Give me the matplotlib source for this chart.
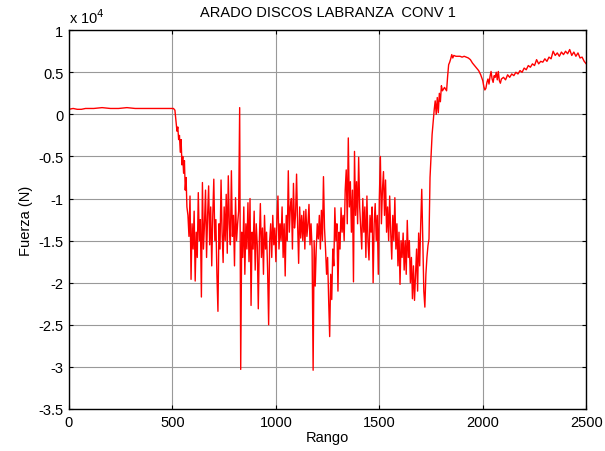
import numpy as np
import matplotlib
matplotlib.use("Agg")
import matplotlib.pyplot as plt

plt.rcParams['font.family'] = ['Liberation Sans', 'DejaVu Sans']

# Fuerza en unidades de 10^4 N
# tramo inicial (sin carga) y caida
rango_ini = [0, 20, 40, 60, 80, 120, 160, 200, 240, 280, 320, 360, 400, 440, 480,
             505, 512, 518, 522, 526, 530, 534, 538, 542, 546, 550, 554, 558, 562, 566, 570]
fuerza_ini = [0.06, 0.07, 0.06, 0.06, 0.07, 0.07, 0.08, 0.07, 0.07, 0.08, 0.07, 0.07, 0.07, 0.07, 0.07,
              0.07, 0.05, -0.1, -0.2, -0.15, -0.3, -0.25, -0.45, -0.3, -0.6, -0.5, -0.7, -0.55, -0.9, -0.75, -1.1]

# tramo de labranza (muestras cada 5 desde 575)
fuerza_lab = [
    -1.2, -1.45, -0.97, -1.96, -1.3, -1.6, -1.15, -1.98, -1.4, -1.7,
    -0.93, -1.5, -1.25, -2.17, -0.81, -1.6, -1.3, -0.9, -1.7, -1.2,
    -0.85, -1.55, -1.1, -1.8, -1.2, -0.77, -1.5, -1.25, -1.9, -2.34,
    -1.3, -1.6, -0.78, -1.4, -1.76, -1.1, -1.5, -0.95, -1.65, -0.73,
    -1.3, -1.55, -0.67, -1.45, -1.2, -1.8, -0.99, -1.5, -1.3, -1.15,
    0.08, -3.03, -1.4, -1.7, -1.1, -1.9, -1.3, -1.6, -1.05, -1.75,
    -1.0, -2.27, -1.4, -1.6, -1.15, -1.85, -1.3, -1.55, -2.31, -1.5,
    -1.06, -1.7, -1.35, -1.9, -1.2, -1.6, -1.4, -1.85, -2.5, -1.5,
    -1.3, -1.7, -1.2, -1.55, -1.35, -1.75, -1.25, -0.97, -1.6, -1.3,
    -1.5, -1.1, -1.7, -1.3, -1.92, -1.2, -1.5, -0.67, -1.4, -1.1,
    -1.0, -1.6, -0.82, -1.35, -1.2, -0.71, -1.3, -1.77, -1.1, -1.47,
    -1.2, -1.5, -1.15, -1.6, -1.13, -1.45, -1.3, -1.07, -1.55, -1.3,
    -1.6, -3.04, -1.5, -2.04, -1.6, -1.3, -1.48, -1.2, -1.6, -1.14,
    -1.5, -0.74, -1.35, -1.6, -1.9, -1.7, -2.2, -2.64, -1.9, -2.2,
    -1.6, -1.8, -1.11, -1.5, -1.3, -2.1, -1.4, -1.6, -1.11, -1.4,
    -1.2, -1.5, -0.9, -0.66, -1.3, -0.28, -1.1, -0.8, -1.4, -0.9,
    -1.99, -0.44, -1.2, -0.8, -1.3, -0.51, -1.1, -1.35, -1.6, -1.0,
    -1.4, -1.1, -1.7, -0.97, -1.5, -1.73, -1.2, -1.4, -1.1, -2.0,
    -1.3, -1.06, -1.5, -1.2, -1.9, -1.0, -0.5, -1.3, -0.9, -0.68,
    -1.2, -0.78, -1.4, -1.1, -1.5, -0.97, -1.4, -1.72, -1.2, -1.5,
    -0.99, -1.6, -1.3, -1.8, -1.4, -2.02, -1.5, -1.7, -1.41, -1.85,
    -1.5, -1.9, -1.26, -1.7, -1.5, -2.0, -1.7, -2.19, -1.8, -2.21,
    -1.9, -1.6, -2.1, -1.41, -1.8, -1.3, -0.89, -1.5, -2.1, -2.29,
    -1.9, -1.7, -1.56, -1.48, -0.75,
]
rango_lab = np.arange(575, 575 + 5 * len(fuerza_lab), 5)

# salida del arado y tramo final
rango_fin = [1750, 1755, 1760, 1765, 1770, 1775, 1780, 1785, 1790, 1795, 1800, 1805, 1810, 1815,
             1820, 1825, 1830, 1835, 1840, 1845, 1850, 1855, 1860, 1870, 1880, 1890, 1900, 1910,
             1920, 1930, 1940, 1950, 1960, 1970, 1980, 1990, 2000, 2005, 2010, 2015, 2020, 2025,
             2030, 2035, 2040, 2045, 2050, 2055, 2060, 2065, 2070, 2075, 2080, 2085, 2090, 2100,
             2110, 2120, 2130, 2140, 2150, 2160, 2170, 2180, 2190, 2200, 2210, 2220, 2230, 2240,
             2250, 2260, 2270, 2280, 2290, 2300, 2310, 2320, 2330, 2340, 2350, 2360, 2370, 2380,
             2390, 2400, 2410, 2420, 2430, 2440, 2450, 2460, 2470, 2480, 2490, 2500]
fuerza_fin = [-0.5, -0.24, -0.1, 0.05, 0.16, 0.0, 0.2, 0.02, 0.25, 0.15, 0.34, 0.28, 0.3, 0.32,
              0.3, 0.28, 0.45, 0.59, 0.62, 0.66, 0.71, 0.67, 0.70, 0.69, 0.69, 0.69, 0.68, 0.69,
              0.68, 0.67, 0.65, 0.61, 0.58, 0.55, 0.52, 0.47, 0.40, 0.33, 0.29, 0.31, 0.38, 0.42,
              0.36, 0.45, 0.51, 0.42, 0.38, 0.46, 0.44, 0.5, 0.41, 0.51, 0.4, 0.37, 0.42, 0.44,
              0.41, 0.47, 0.44, 0.48, 0.46, 0.5, 0.48, 0.52, 0.5, 0.55, 0.53, 0.58, 0.56, 0.6,
              0.58, 0.65, 0.6, 0.63, 0.62, 0.66, 0.63, 0.68, 0.66, 0.75, 0.7, 0.73, 0.69, 0.74,
              0.71, 0.75, 0.72, 0.77, 0.7, 0.74, 0.69, 0.73, 0.67, 0.68, 0.63, 0.6]

rango = np.concatenate([rango_ini, rango_lab, rango_fin])
fuerza = np.concatenate([fuerza_ini, fuerza_lab, fuerza_fin])

fig = plt.figure(figsize=(6.05, 4.52), dpi=100)
ax = fig.add_axes([0.114, 0.093, 0.855, 0.838])
ax.plot(rango, fuerza, color='red', linewidth=1.0)

ax.set_xlim(0, 2500)
ax.set_ylim(-3.5, 1)
ax.set_xticks([0, 500, 1000, 1500, 2000, 2500])
ax.set_yticks(np.arange(-3.5, 1.01, 0.5))
ax.set_yticklabels(['-3.5', '-3', '-2.5', '-2', '-1.5', '-1', '-0.5', '0', '0.5', '1'])
ax.grid(True, color='0.6', linewidth=0.8)
ax.tick_params(direction='in', length=3, labelsize=10.5, top=True, right=True, pad=4)
for s in ax.spines.values():
    s.set_linewidth(1.0)

ax.set_title('ARADO DISCOS LABRANZA  CONV 1', fontsize=10.5, pad=10)
ax.set_xlabel('Rango', fontsize=10.5, labelpad=1)
ax.set_ylabel('Fuerza (N)', fontsize=10.5, labelpad=4)
ax.text(0.0, 1.01, r'x 10$^{4}$', transform=ax.transAxes, fontsize=10.5, ha='left', va='bottom')

fig.savefig('out.png', dpi=100)
